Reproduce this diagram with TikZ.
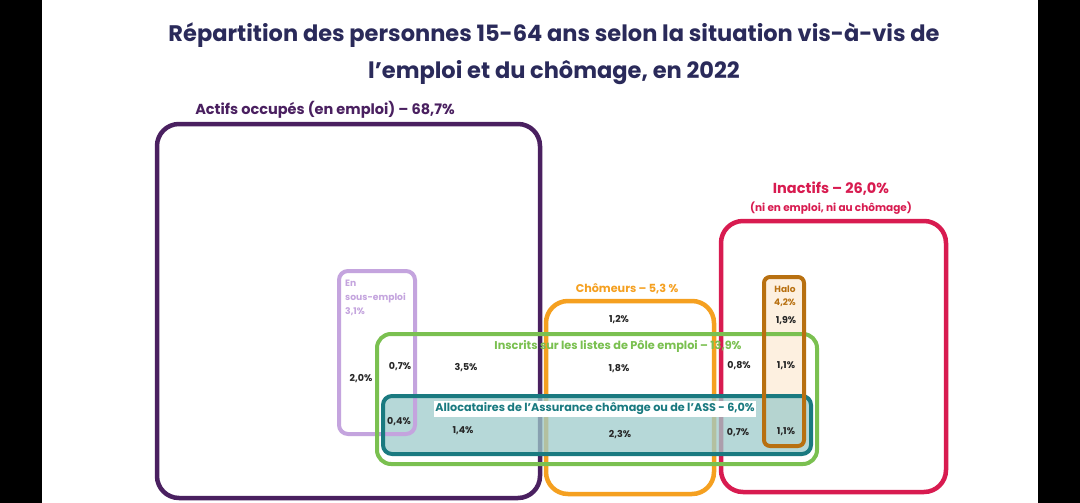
\documentclass[tikz,border=0pt]{standalone}
\usepackage{fontspec}
\setmainfont{Poppins}
\definecolor{navy}{HTML}{2A2A5A}
\definecolor{purp}{HTML}{4A2060}
\definecolor{lav}{HTML}{C4A4DE}
\definecolor{oran}{HTML}{F5A020}
\definecolor{crim}{HTML}{D81B50}
\definecolor{brwn}{HTML}{B87010}
\definecolor{grn}{HTML}{7AC050}
\definecolor{teal2}{HTML}{1A7A80}
\definecolor{tealfill}{HTML}{9ECBCB}
\definecolor{halofill}{HTML}{FDF0E0}
\tikzset{
  box/.style={line width=4.5pt,rounded corners=22pt},
  sbox/.style={line width=4pt,rounded corners=9pt},
  num/.style={font=\fontsize{9.5}{10}\selectfont\bfseries,text=black!85},
  lab/.style={font=\fontsize{10}{12}\selectfont\bfseries},
}
\begin{document}
\begin{tikzpicture}[x=1pt,y=-1pt]
\fill[black] (0,0) rectangle (1080,503);
\fill[white] (42,0) rectangle (1038,503);
\useasboundingbox (0,0) rectangle (1080,503);
\node[font=\fontsize{22.5}{24}\selectfont\bfseries,text=navy,align=center] (title) at (554,54) {Répartition des personnes 15-64 ans selon la situation vis-à-vis de\\[12pt]l’emploi et du chômage, en 2022};
% big boxes
\draw[box,purp] (157,124) rectangle (540,498);
\draw[box,crim] (721,221) rectangle (946,492);
\draw[box,oran] (546,301) rectangle (714,494);
% fills
\fill[halofill] (764,277) rectangle (804,446);
\fill[tealfill,opacity=0.75,rounded corners=8pt] (383,396) rectangle (811,454);
\draw[sbox,lav] (339,271) rectangle (415,434);
\draw[sbox,grn,rounded corners=14pt] (377,334) rectangle (817,464);
\draw[sbox,teal2] (383,396) rectangle (811,454);
\draw[sbox,brwn,rounded corners=6pt] (764,277) rectangle (804,446);
% labels
\node[lab,text=purp,font=\fontsize{14.5}{16}\selectfont\bfseries] (lact) at (325,110) {Actifs occupés (en emploi) – 68,7\%};
\node[lab,text=crim,font=\fontsize{14.5}{16}\selectfont\bfseries] (linac) at (831,189) {Inactifs – 26,0\%};
\node[lab,text=crim,font=\fontsize{10.5}{12}\selectfont\bfseries] (linac2) at (831,208) {(ni en emploi, ni au chômage)};
\node[lab,text=lav,font=\fontsize{9.2}{14}\selectfont\bfseries,align=left,anchor=north west,inner sep=0pt] (lsous) at (345,280) {En\\sous-emploi\\3,1\%};
\node[lab,text=oran,font=\fontsize{11.2}{12}\selectfont\bfseries] (lcho) at (627,289) {Chômeurs – 5,3 \%};
\node[lab,text=brwn,font=\fontsize{9}{13}\selectfont\bfseries,align=center] (lhalo) at (785,296) {Halo\\4,2\%};
\node[lab,text=grn,font=\fontsize{11.3}{12}\selectfont\bfseries] (lins) at (618,346) {Inscrits sur les listes de Pôle emploi – 13,9\%};
\node[lab,text=teal2,fill=white,inner sep=1.5pt,font=\fontsize{11.2}{12}\selectfont\bfseries] (lall) at (595,409) {Allocataires de l’Assurance chômage ou de l’ASS - 6,0\%};
% numbers
\node[num] (n1) at (619,320) {1,2\%};
\node[num] (n2) at (786,321) {1,9\%};
\node[num] (n3) at (400,367) {0,7\%};
\node[num] (n4) at (466,368) {3,5\%};
\node[num] (n5) at (619,369) {1,8\%};
\node[num] (n6) at (739,366) {0,8\%};
\node[num] (n7) at (786,366) {1,1\%};
\node[num] (n8) at (361,379) {2,0\%};
\node[num] (n9) at (399,422) {0,4\%};
\node[num] (n10) at (463,431) {1,4\%};
\node[num] (n11) at (620,435) {2,3\%};
\node[num] (n12) at (738,433) {0,7\%};
\node[num] (n13) at (786,432) {1,1\%};
\end{tikzpicture}
\end{document}
